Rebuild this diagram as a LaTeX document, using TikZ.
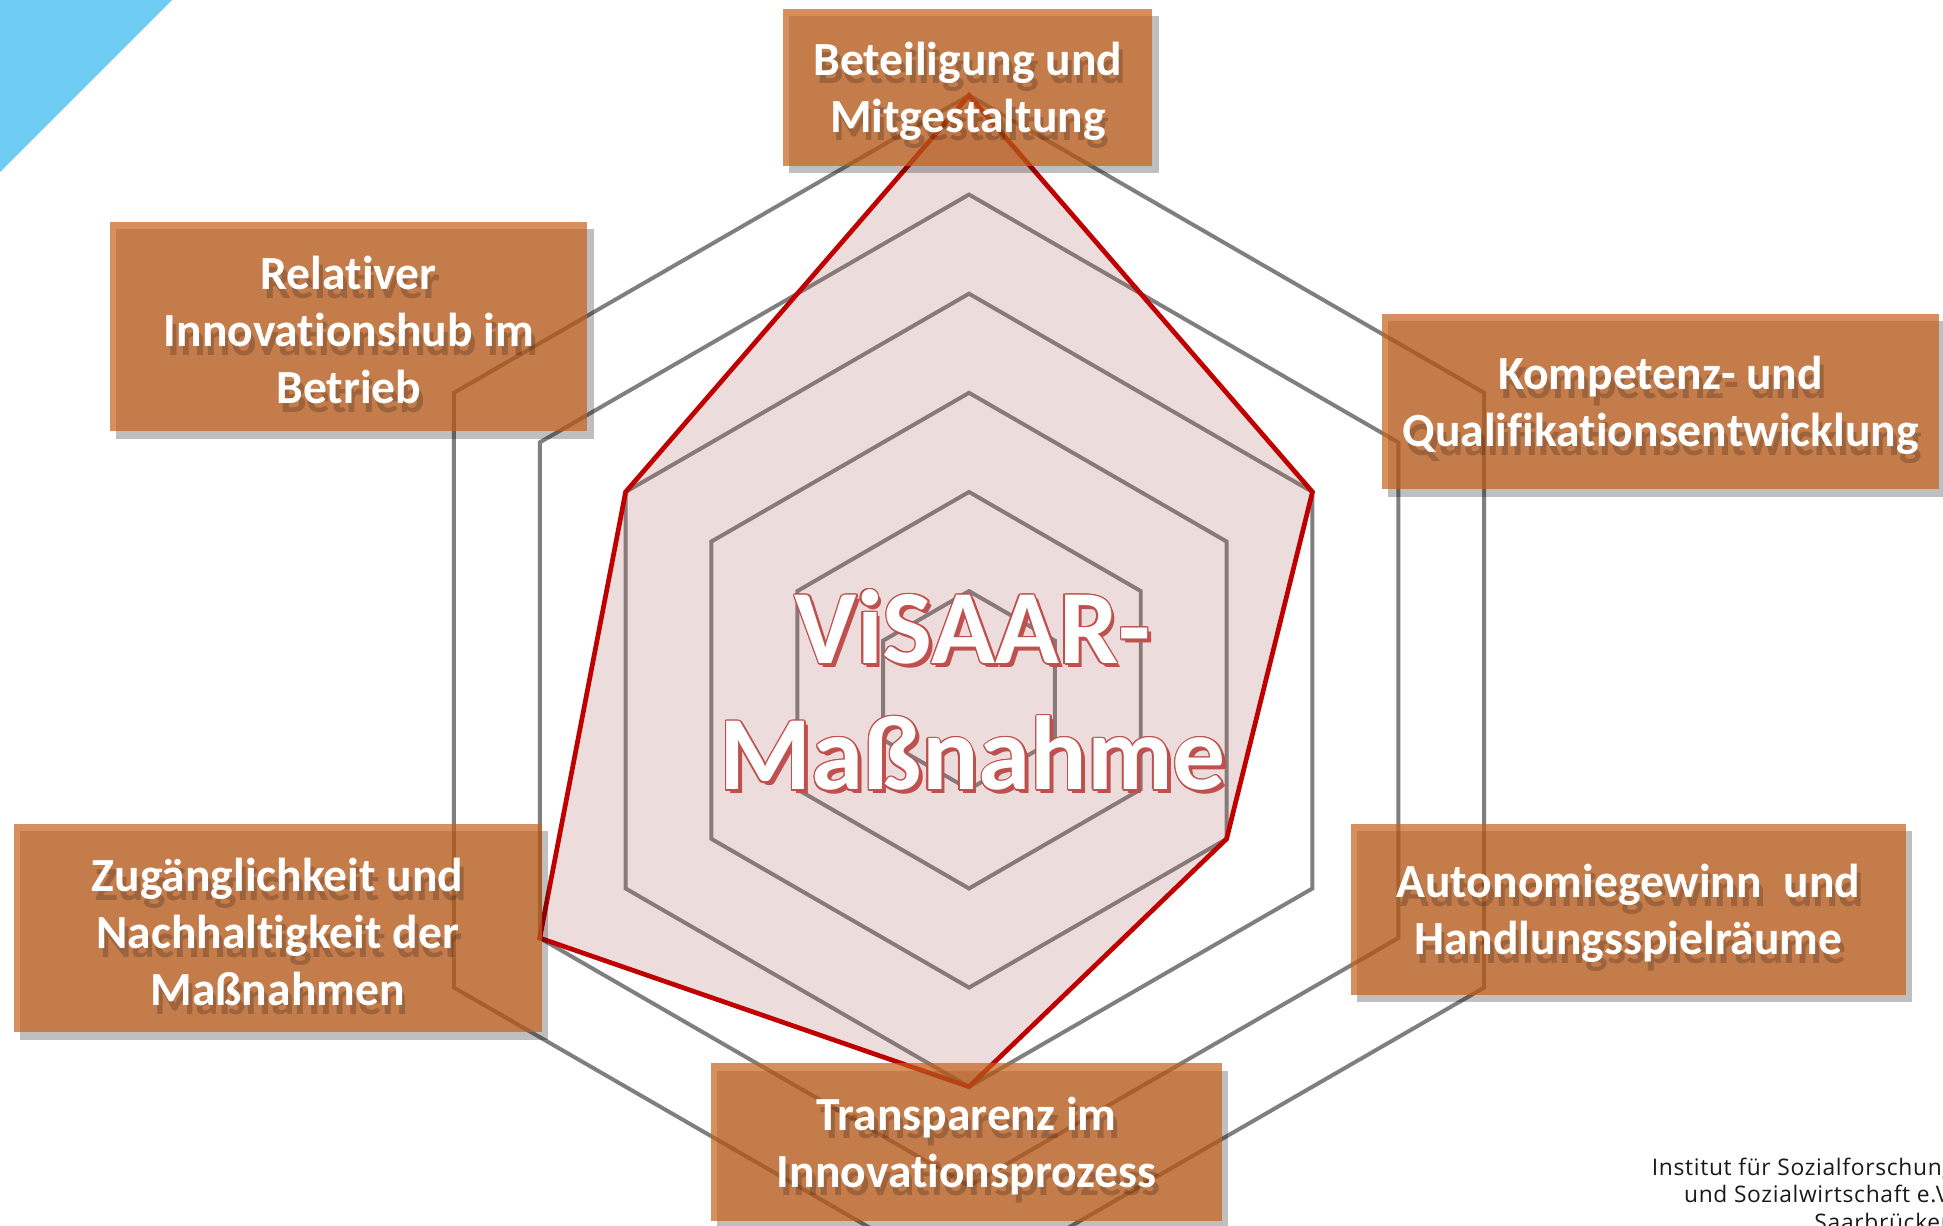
\documentclass[tikz,border=0pt]{standalone}
\usepackage{fontspec}
\setmainfont[Ligatures=CommonOff]{Carlito}
\newfontfamily\footfont[LetterSpace=3]{Open Sans}
\usetikzlibrary{calc}
\definecolor{triblue}{HTML}{6FCDF4}
\definecolor{gridgray}{HTML}{7F7F7F}
\definecolor{radarred}{HTML}{C00000}
\definecolor{radarfill}{HTML}{B06464}
\definecolor{boxorange}{HTML}{C7601A}
\definecolor{titlered}{HTML}{C0504D}
\definecolor{foottext}{HTML}{1A1A1A}
\tikzset{
  gridline/.style={draw=gridgray, line width=1.6pt},
  radar/.style={draw=radarred, line width=1.9pt, fill=radarfill, fill opacity=0.22},
  boxshadow/.style={fill=black, fill opacity=0.25, inner sep=0, outer sep=0},
  labelbox/.style={fill=boxorange, fill opacity=0.7, inner sep=0, outer sep=0},
  boxtext/.style={text=white, font=\fontsize{19.2}{23}\selectfont\bfseries, align=center, inner sep=0},
  boxtextshadow/.style={boxtext, text=black, text opacity=0.2},
  titletext/.style={font=\fontsize{42.5}{51}\selectfont\bfseries, align=center, inner sep=0},
}
\newcommand\drawlabel[6]{%
  \node[boxshadow, minimum width=#4, minimum height=#5] (#1-shadow) at (#2+5,#3+6) {};
  \node[labelbox, minimum width=#4, minimum height=#5] (#1) at (#2,#3) {};
  \node[boxtextshadow] (#1-textshadow) at (#2+3,#3+10) {#6};
  \node[boxtext] (#1-text) at (#2,#3+3) {#6};
}
\begin{document}
\begin{tikzpicture}[x=0.5pt,y=-0.5pt]
\useasboundingbox (0,0) rectangle (1568,988.6);
\fill[white] (0,0) rectangle (1568,988.6);
% corner triangle
\fill[triblue] (0,0) -- (139,0) -- (0,139) -- cycle;
% hexagonal grid
\foreach \k in {1,...,6} {
  \draw[gridline] (782,557-80*\k) -- (782+69.282*\k,557-40*\k) -- (782+69.282*\k,557+40*\k)
     -- (782,557+80*\k) -- (782-69.282*\k,557+40*\k) -- (782-69.282*\k,557-40*\k) -- cycle;
}
% radar values
\coordinate (v1) at (782,77);
\coordinate (v2) at (1059.13,397);
\coordinate (v3) at (989.85,677);
\coordinate (v4) at (782,877);
\coordinate (v5) at (435.59,757);
\coordinate (v6) at (504.87,397);
\filldraw[radar] (v1) -- (v2) -- (v3) -- (v4) -- (v5) -- (v6) -- cycle;
% title
\node[titletext, text=titlered] (title-shadow) at (788,560) {ViSAAR-\\Maßnahme};
\foreach \a in {0,30,...,330} {
  \node[titletext, text=titlered] (title-ring-\a) at ($(785,557)+(\a:1.2)$) {ViSAAR-\\Maßnahme};
}
\node[titletext, text=white] (title) at (785,557) {ViSAAR-\\Maßnahme};
% labels
\drawlabel{b1}{781}{70.5}{149pt}{63.5pt}{Beteiligung und\\Mitgestaltung}
\drawlabel{b2}{281.5}{263.5}{192.5pt}{84.5pt}{Relativer\\Innovationshub im\\Betrieb}
\drawlabel{b3}{1340}{324}{225pt}{71pt}{Kompetenz- und\\Qualifikationsentwicklung}
\drawlabel{b4}{1314}{734}{224pt}{69pt}{Autonomiegewinn\ \ und\\Handlungsspielräume}
\drawlabel{b5}{224}{749}{213pt}{84pt}{Zugänglichkeit und\\Nachhaltigkeit der\\Maßnahmen}
\drawlabel{b6}{780}{921.5}{206pt}{63.5pt}{Transparenz im\\Innovationsprozess}
% footer
\node[font=\footfont\fontsize{9.2}{11.15}\selectfont, text=foottext, align=right, anchor=north east, inner sep=0] (footer) at (1578,934) {Institut für Sozialforschung\\und Sozialwirtschaft e.V.\\Saarbrücken};
\end{tikzpicture}
\end{document}
